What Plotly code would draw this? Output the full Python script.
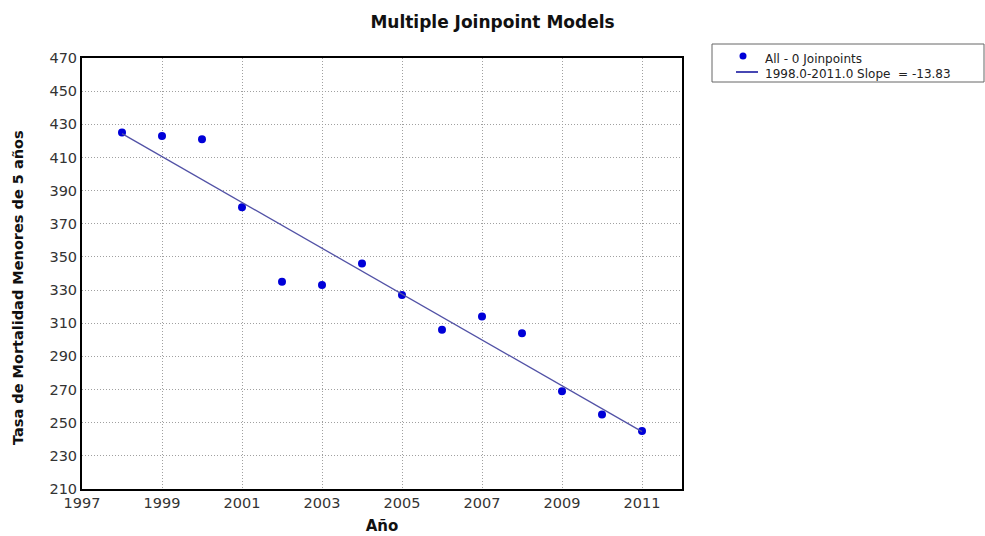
import plotly.graph_objects as go

# Under-5 mortality rate by year
years = [1998, 1999, 2000, 2001, 2002, 2003, 2004, 2005, 2006, 2007, 2008, 2009, 2010, 2011]
rates = [425, 423, 421, 380, 335, 333, 346, 327, 306, 314, 304, 269, 255, 245]

# Joinpoint model (0 joinpoints): single segment with the reported slope
seg_start, seg_end = 1998.0, 2011.0
slope = -13.83

x_ticks = [1997, 1999, 2001, 2003, 2005, 2007, 2009, 2011]
y_ticks = list(range(210, 471, 20))

series_label = "All - 0 Joinpoints"
model_label = f"{seg_start:.1f}-{seg_end:.1f} Slope  = {slope:.2f}"

mean_x = sum(years) / len(years)
mean_y = sum(rates) / len(rates)
fit_x = [seg_start, seg_end]
fit_y = [mean_y + slope * (x - mean_x) for x in fit_x]

W, H = 985, 536
L, R, T, B = 82, 303, 58, 47
plot_w, plot_h = W - L - R, H - T - B

POINT_COLOR = "#0000d8"
LINE_COLOR = "#5252a6"


def px(xp):
    """Horizontal page pixel -> paper coordinate."""
    return (xp - L) / plot_w


def py(yp):
    """Vertical page pixel (from top) -> paper coordinate."""
    return (H - B - yp) / plot_h


fig = go.Figure()
fig.add_trace(go.Scatter(
    x=years, y=rates, mode="markers",
    marker=dict(color=POINT_COLOR, size=8),
    name=series_label,
))
fig.add_trace(go.Scatter(
    x=fit_x, y=fit_y, mode="lines",
    line=dict(color=LINE_COLOR, width=1.3),
    name=model_label,
))

axis_common = dict(
    showline=True, linecolor="black", linewidth=2, mirror=True,
    showgrid=True, gridcolor="#a0a0a0", griddash="1px,2px", gridwidth=1,
    zeroline=False, ticks="", automargin=False,
    tickfont=dict(family="DejaVu Sans", size=14.5, color="#333333"),
)

# Legend box drawn alongside the plot: frame, marker glyph, line glyph, labels
legend_shapes = [
    dict(type="rect", xref="paper", yref="paper",
         x0=px(712), x1=px(984), y0=py(82), y1=py(44),
         line=dict(color="#666666", width=1), fillcolor="white", layer="below"),
    dict(type="circle", xref="paper", yref="paper",
         xsizemode="pixel", ysizemode="pixel",
         xanchor=px(743), yanchor=py(56), x0=-3.5, x1=3.5, y0=-3.5, y1=3.5,
         line=dict(width=0), fillcolor=POINT_COLOR),
    dict(type="line", xref="paper", yref="paper",
         x0=px(736), x1=px(758), y0=py(72), y1=py(72),
         line=dict(color="#1a1aa0", width=1.6)),
]
legend_labels = [
    dict(text=series_label, x=px(763), y=py(59)),
    dict(text=model_label, x=px(763), y=py(74)),
]

annotations = [
    dict(text="<b>Tasa de Mortalidad Menores de 5 años</b>",
         textangle=-90, showarrow=False, xref="paper", yref="paper",
         x=px(18), y=py(288), xanchor="center", yanchor="middle",
         font=dict(family="DejaVu Sans", size=14.5, color="#111111")),
]
for lab in legend_labels:
    annotations.append(dict(
        text=lab["text"], x=lab["x"], y=lab["y"], xref="paper", yref="paper",
        xanchor="left", yanchor="middle", showarrow=False,
        font=dict(family="DejaVu Sans", size=12, color="#222222"),
    ))

fig.update_layout(
    width=W, height=H,
    margin=dict(l=L, r=R, t=T, b=B),
    paper_bgcolor="white", plot_bgcolor="white",
    title=dict(
        text="<b>Multiple Joinpoint Models</b>",
        x=0.5, xref="container", xanchor="center",
        y=1 - 22 / H, yref="container", yanchor="middle",
        font=dict(family="DejaVu Sans", size=17, color="#111111"),
    ),
    xaxis=dict(
        range=[1997, 2012], tickvals=x_ticks,
        title=dict(text="<b>Año</b>", standoff=10,
                   font=dict(family="DejaVu Sans", size=15, color="#111111")),
        **axis_common,
    ),
    yaxis=dict(
        range=[210, 470], tickvals=y_ticks,
        **axis_common,
    ),
    showlegend=False,
    annotations=annotations,
    shapes=legend_shapes,
)

fig.write_html("out.html")
